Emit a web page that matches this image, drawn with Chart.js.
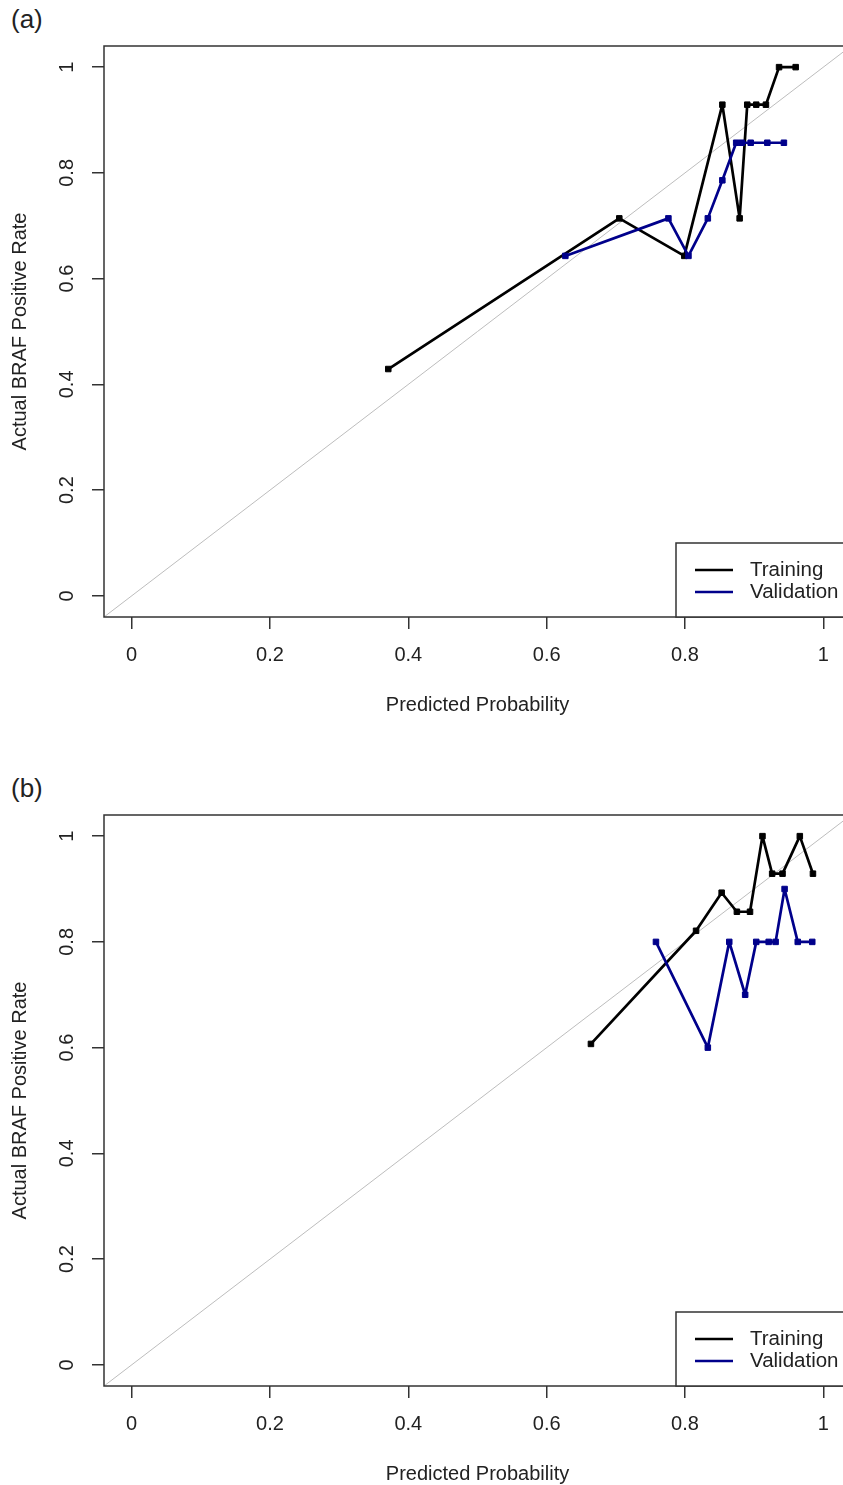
<!DOCTYPE html>
<html>
<head>
<meta charset="utf-8" />
<title>Calibration plots</title>
<script src="https://cdn.jsdelivr.net/npm/chart.js@4.4.1/dist/chart.umd.min.js"></script>
<style>
  html, body { margin: 0; padding: 0; background: #fff; }
  body { width: 843px; height: 1485px; overflow: hidden; position: relative; }
  canvas { position: absolute; left: 0; }
  #chart-a { top: 0; }
  #chart-b { top: 769px; }
  .panel-tag {
    position: absolute; left: 11px;
    font: 26px "Liberation Sans", Arial, sans-serif; color: #222;
  }
</style>
</head>
<body>
<div class="panel-tag" style="top: 4px">(a)</div>
<div class="panel-tag" style="top: 773px">(b)</div>
<canvas id="chart-a" width="860" height="769"></canvas>
<canvas id="chart-b" width="860" height="769"></canvas>

<script>
// Calibration curves: actual BRAF positive rate vs predicted probability,
// training (black) and validation (navy) cohorts, with the y = x reference.

const X_TICKS = [0, 0.2, 0.4, 0.6, 0.8, 1];
const Y_TICKS = [0, 0.2, 0.4, 0.6, 0.8, 1];
const AXIS_RANGE = [-0.04, 1.04];
const SERIES_LABELS = ["Training", "Validation"];

// panel (a)
const TRAIN_A_X = [0.371, 0.705, 0.799, 0.854, 0.879, 0.890, 0.903, 0.917, 0.936, 0.960];
const TRAIN_A_Y = [0.429, 0.714, 0.643, 0.929, 0.714, 0.929, 0.929, 0.929, 1.0, 1.0];
const VALID_A_X = [0.627, 0.776, 0.805, 0.833, 0.854, 0.874, 0.882, 0.895, 0.919, 0.943];
const VALID_A_Y = [0.643, 0.714, 0.643, 0.714, 0.786, 0.857, 0.857, 0.857, 0.857, 0.857];

// panel (b)
const TRAIN_B_X = [0.664, 0.816, 0.853, 0.875, 0.894, 0.912, 0.926, 0.941, 0.966, 0.985];
const TRAIN_B_Y = [0.607, 0.821, 0.893, 0.857, 0.857, 1.0, 0.929, 0.929, 1.0, 0.929];
const VALID_B_X = [0.758, 0.833, 0.864, 0.887, 0.903, 0.921, 0.931, 0.944, 0.963, 0.984];
const VALID_B_Y = [0.8, 0.6, 0.8, 0.7, 0.8, 0.8, 0.8, 0.9, 0.8, 0.8];

const FONT = '"Liberation Sans", Arial, sans-serif';
const TEXT_COLOR = "#222";
const FRAME_COLOR = "#333";
const TRAIN_COLOR = "#000000";
const VALID_COLOR = "#00008b";
const DIAG_COLOR = "#bdbdbd";

const fmt = (v) => (v === 0 || v === 1 ? String(v) : v.toFixed(1));
const pairs = (xs, ys) => xs.map((x, i) => ({ x, y: ys[i] }));

// ---------------------------------------------------------------------------
// Plugins: full box around the plot, rotated y labels (R style), legend
// ---------------------------------------------------------------------------
const frame = {
  id: "frame",
  afterDatasetsDraw(chart) {
    const { ctx, chartArea: a } = chart;
    ctx.save();
    ctx.strokeStyle = FRAME_COLOR;
    ctx.lineWidth = 1.5;
    ctx.strokeRect(a.left, a.top, a.right - a.left, a.bottom - a.top);
    ctx.restore();
  },
};

const rotatedYTicks = {
  id: "rotatedYTicks",
  afterDraw(chart) {
    const { ctx, chartArea, scales: { y } } = chart;
    ctx.save();
    ctx.font = `20px ${FONT}`;
    ctx.fillStyle = TEXT_COLOR;
    ctx.textAlign = "center";
    ctx.textBaseline = "middle";
    for (const t of y.ticks) {
      ctx.save();
      ctx.translate(chartArea.left - 37, y.getPixelForValue(t.value));
      ctx.rotate(-Math.PI / 2);
      ctx.fillText(fmt(t.value), 0, 0);
      ctx.restore();
    }
    ctx.restore();
  },
};

const boxLegend = {
  id: "boxLegend",
  afterDraw(chart) {
    const { ctx, chartArea: a } = chart;
    const left = a.left + 572;
    const top = a.bottom - 74;
    ctx.save();
    ctx.fillStyle = "#fff";
    ctx.fillRect(left, top, a.right - left, a.bottom - top);
    ctx.strokeStyle = FRAME_COLOR;
    ctx.lineWidth = 1.5;
    ctx.strokeRect(left, top, a.right - left, a.bottom - top);
    ctx.font = `20.5px ${FONT}`;
    ctx.textBaseline = "middle";
    ctx.textAlign = "left";
    const series = chart.data.datasets.filter((d) => SERIES_LABELS.includes(d.label));
    SERIES_LABELS.forEach((label, i) => {
      const ds = series.find((d) => d.label === label);
      const yy = top + 27 + i * 22;
      ctx.strokeStyle = ds.borderColor;
      ctx.lineWidth = 2.7;
      ctx.beginPath();
      ctx.moveTo(left + 19, yy);
      ctx.lineTo(left + 57, yy);
      ctx.stroke();
      ctx.fillStyle = TEXT_COLOR;
      ctx.fillText(label, left + 74, yy);
    });
    ctx.restore();
  },
};

// ---------------------------------------------------------------------------
// Chart factory
// ---------------------------------------------------------------------------
function lineSet(label, points, color, order) {
  return {
    label,
    data: points,
    showLine: true,
    borderColor: color,
    backgroundColor: color,
    borderWidth: 2.7,
    borderJoinStyle: "round",
    borderCapStyle: "round",
    pointStyle: "rect",
    pointRadius: 3.9,
    pointBorderWidth: 1,
    order,
  };
}

function makeChart(canvasId, train, valid) {
  const tickGrid = { drawOnChartArea: false, drawTicks: true, tickLength: 12, color: FRAME_COLOR, lineWidth: 1.5 };
  return new Chart(document.getElementById(canvasId), {
    type: "scatter",
    data: {
      datasets: [
        lineSet(SERIES_LABELS[1], valid, VALID_COLOR, 1),
        lineSet(SERIES_LABELS[0], train, TRAIN_COLOR, 2),
        {
          label: "reference",
          data: [{ x: AXIS_RANGE[0], y: AXIS_RANGE[0] }, { x: AXIS_RANGE[1], y: AXIS_RANGE[1] }],
          showLine: true,
          borderColor: DIAG_COLOR,
          borderWidth: 1,
          pointRadius: 0,
          order: 3,
        },
      ],
    },
    options: {
      responsive: false,
      animation: false,
      layout: { padding: { top: 46, right: 9, left: 0, bottom: 0 } },
      plugins: { legend: { display: false }, tooltip: { enabled: false } },
      scales: {
        x: {
          type: "linear",
          min: AXIS_RANGE[0],
          max: AXIS_RANGE[1],
          afterBuildTicks: (s) => { s.ticks = X_TICKS.map((value) => ({ value })); },
          afterFit: (s) => { s.height = 152; },
          grid: tickGrid,
          border: { display: false },
          ticks: { padding: 14, color: TEXT_COLOR, font: { family: FONT, size: 20 }, callback: fmt, maxRotation: 0 },
          title: {
            display: true,
            text: "Predicted Probability",
            color: TEXT_COLOR,
            font: { family: FONT, size: 20 },
            padding: { top: 0, bottom: 52 },
          },
        },
        y: {
          type: "linear",
          min: AXIS_RANGE[0],
          max: AXIS_RANGE[1],
          afterBuildTicks: (s) => { s.ticks = Y_TICKS.map((value) => ({ value })); },
          afterFit: (s) => { s.width = 104; },
          grid: tickGrid,
          border: { display: false },
          ticks: { display: false },
          title: {
            display: true,
            text: "Actual BRAF Positive Rate",
            color: TEXT_COLOR,
            font: { family: FONT, size: 20 },
            padding: { top: 8, bottom: 0 },
          },
        },
      },
    },
    plugins: [frame, rotatedYTicks, boxLegend],
  });
}

makeChart("chart-a", pairs(TRAIN_A_X, TRAIN_A_Y), pairs(VALID_A_X, VALID_A_Y));
makeChart("chart-b", pairs(TRAIN_B_X, TRAIN_B_Y), pairs(VALID_B_X, VALID_B_Y));
</script>
</body>
</html>
